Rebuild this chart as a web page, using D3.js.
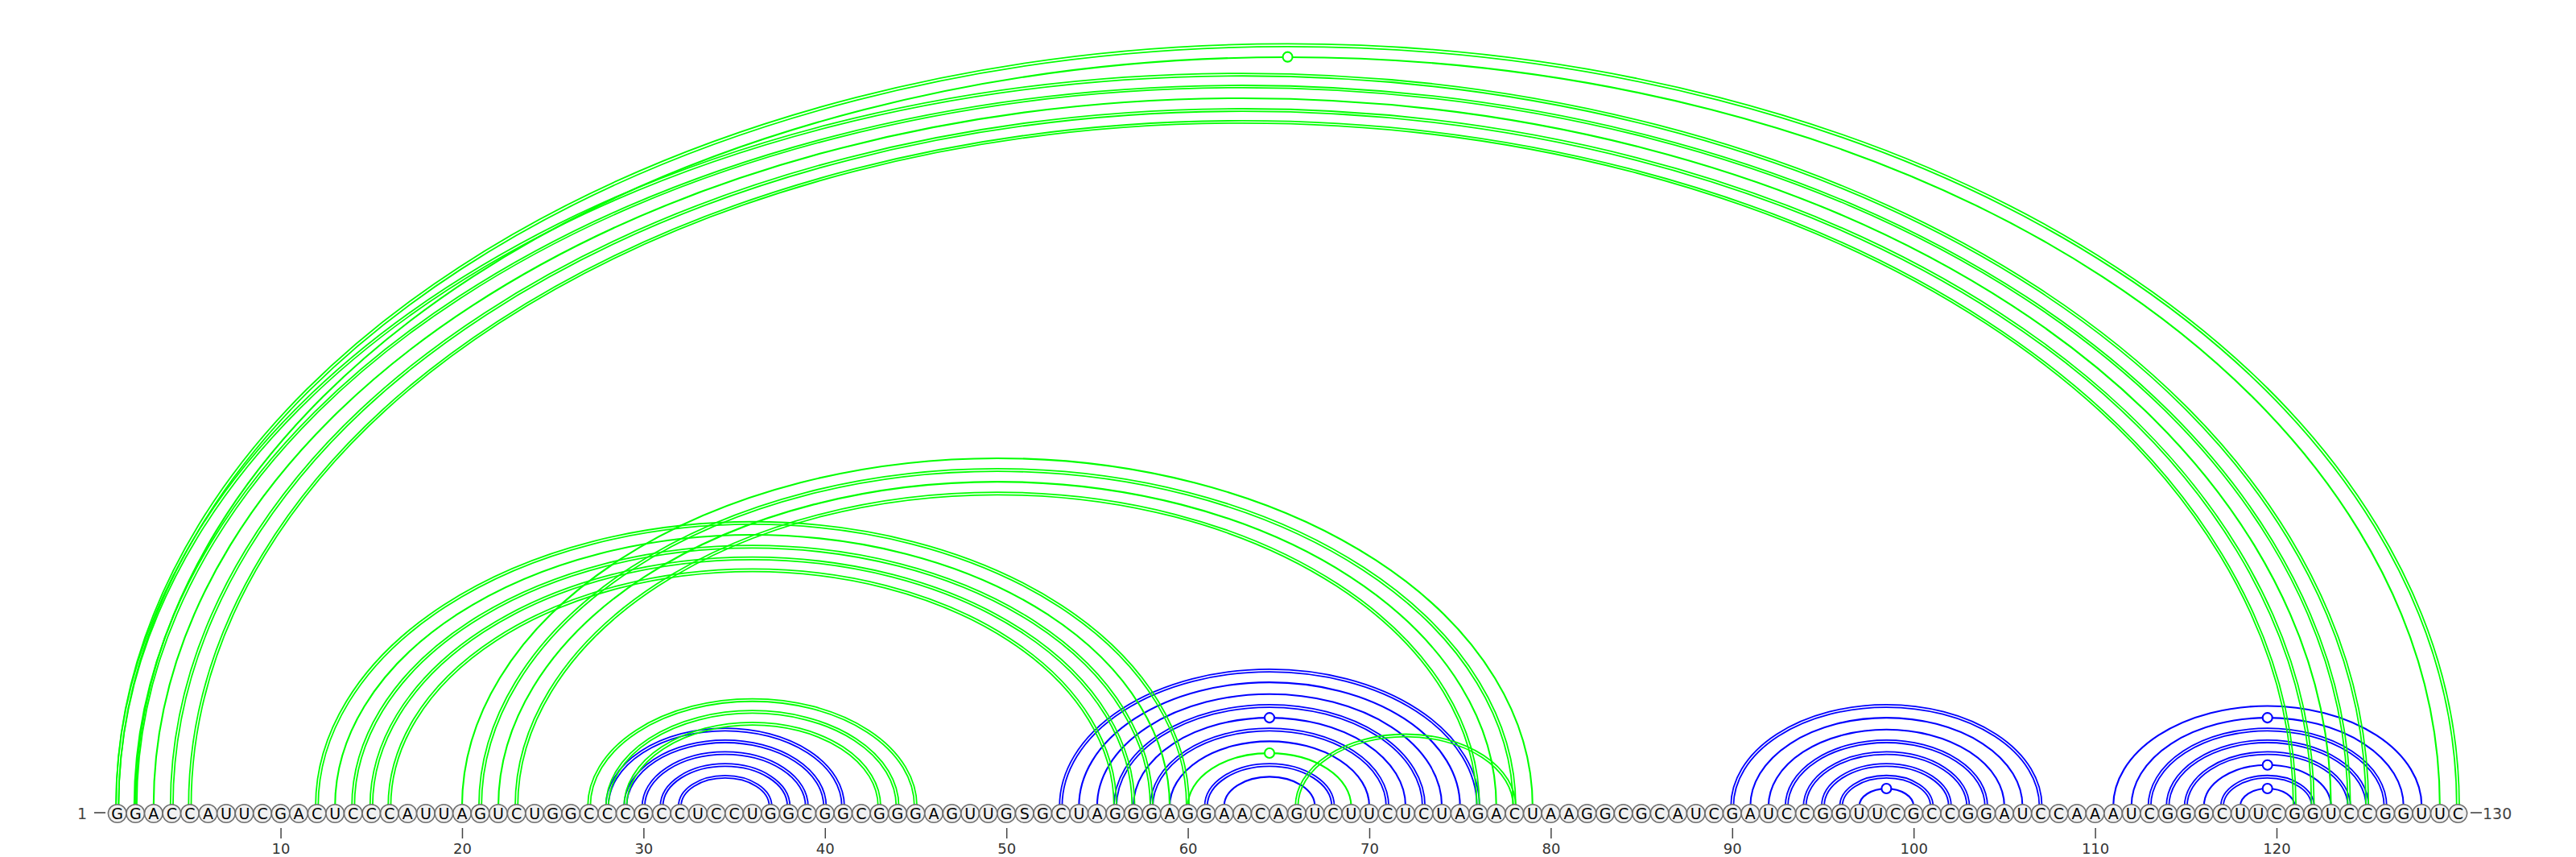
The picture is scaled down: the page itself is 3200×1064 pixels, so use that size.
<!DOCTYPE html>
<html>
<head>
<meta charset="utf-8">
<script src="https://cdn.jsdelivr.net/npm/d3@7"></script>
<style>
  html, body { margin: 0; padding: 0; background: #ffffff; }
  svg { display: block; }
</style>
</head>
<body>
<svg id="chart" width="3200" height="1064"></svg>
<script>
// ---------------- data ----------------
const sequence = "GGACCAUUCGACUCCCAUUAGUCUGGCCCGCCUCCUGGCGGCGGGAGUUGSGCUAGGGAGGAACAGUCUUCUCUAGACUAAGGCGCAUCGAUCCGGUUCGCCGGAUCCAAAUCGGGCUUCGGUCCGGUUC".split("");

const greenPairs = [
  [1,130],[2,129],
  [1,125],[2,124],[3,123],[4,122],[5,121],
  [12,60],[13,59],[14,58],[15,57],[16,56],
  [20,79],[21,78],[22,77],[23,76],
  [27,45],[28,44],[29,43],
  [60,69],[66,78]
];

const bluePairs = [
  [28,41],[29,40],[30,39],[31,38],[32,37],
  [53,76],[54,75],[55,74],[56,73],[57,72],[58,71],[59,70],[61,68],[62,67],
  [90,107],[91,106],[92,105],[93,104],[94,103],[95,102],[96,101],[97,100],
  [111,128],[112,127],[113,126],[114,125],[115,124],[116,123],[117,122],[118,121]
];

const tickValues = [10,20,30,40,50,60,70,80,90,100,110,120];
const firstLabel = "1";
const lastLabel = "130";

// ---------------- layout ----------------
const svg = d3.select("#chart");
svg.append("rect").attr("width", 3200).attr("height", 1064).attr("fill", "#ffffff");

const n = sequence.length;
const x = d3.scaleLinear().domain([1, n]).range([145.7, 3053.4]);
const baseY = 1001;       // arc baseline
const nucY = 1010;        // nucleotide circle centre
const nucR = 11.3;
const arcRatio = 0.65;    // ry / rx

function pairType(i, j) {
  const s = sequence[i - 1] + sequence[j - 1];
  if (s === "GC" || s === "CG") return "double";
  if (s === "GU" || s === "UG") return "wobble";
  return "single";
}

function arcPath(i, j, off) {
  const x1 = x(i) - off, x2 = x(j) + off;
  const rx = (x2 - x1) / 2;
  const ry = (x(j) - x(i)) / 2 * arcRatio + off;
  return `M${x1},${baseY} A${rx},${ry} 0 0 1 ${x2},${baseY}`;
}

function drawPairs(pairs, color, cls) {
  const g = svg.append("g").attr("class", cls);
  pairs.forEach(([i, j]) => {
    const t = pairType(i, j);
    if (t === "double") {
      [-1.6, 1.6].forEach(off => {
        g.append("path")
          .attr("d", arcPath(i, j, off))
          .attr("fill", "none")
          .attr("stroke", color)
          .attr("stroke-width", 1.8);
      });
    } else {
      g.append("path")
        .attr("d", arcPath(i, j, 0))
        .attr("fill", "none")
        .attr("stroke", color)
        .attr("stroke-width", 2.1);
      if (t === "wobble") {
        const cx = (x(i) + x(j)) / 2;
        const cy = baseY - (x(j) - x(i)) / 2 * arcRatio;
        g.append("circle")
          .attr("cx", cx).attr("cy", cy).attr("r", 6)
          .attr("fill", "#ffffff")
          .attr("stroke", color)
          .attr("stroke-width", 2.1);
      }
    }
  });
}

drawPairs(bluePairs, "#0000ff", "blue-arcs");
drawPairs(greenPairs, "#00ff00", "green-arcs");

// nucleotides
const nuc = svg.append("g").attr("class", "nucleotides")
  .selectAll("g").data(sequence.map((b, k) => ({ b, pos: k + 1 })))
  .join("g")
  .attr("transform", d => `translate(${x(d.pos)},${nucY})`);

nuc.append("circle")
  .attr("r", nucR)
  .attr("fill", "#f1f1f1")
  .attr("stroke", "#6e6e6e")
  .attr("stroke-width", 1.6);

nuc.append("text")
  .attr("text-anchor", "middle")
  .attr("dy", "0.36em")
  .attr("font-family", "DejaVu Sans, sans-serif")
  .attr("font-size", 19)
  .attr("fill", "#000000")
  .text(d => d.b);

// end labels
svg.append("text")
  .attr("x", 108).attr("y", nucY).attr("dy", "0.36em")
  .attr("text-anchor", "end")
  .attr("font-family", "DejaVu Sans, sans-serif")
  .attr("font-size", 19)
  .attr("fill", "#444444")
  .text(firstLabel);
svg.append("line")
  .attr("x1", 117).attr("x2", 131).attr("y1", nucY - 1).attr("y2", nucY - 1)
  .attr("stroke", "#444444").attr("stroke-width", 1.6);

svg.append("line")
  .attr("x1", 3069).attr("x2", 3083).attr("y1", nucY - 1).attr("y2", nucY - 1)
  .attr("stroke", "#444444").attr("stroke-width", 1.6);
svg.append("text")
  .attr("x", 3084).attr("y", nucY).attr("dy", "0.36em")
  .attr("text-anchor", "start")
  .attr("font-family", "DejaVu Sans, sans-serif")
  .attr("font-size", 19)
  .attr("fill", "#444444")
  .text(lastLabel);

// axis ticks
const axis = d3.axisBottom(x)
  .tickValues(tickValues)
  .tickSize(13)
  .tickPadding(6)
  .tickFormat(d3.format("d"));

const axG = svg.append("g")
  .attr("transform", `translate(0,${1028})`)
  .call(axis);
axG.select(".domain").remove();
axG.selectAll(".tick line").attr("stroke", "#444444").attr("stroke-width", 1.5);
axG.selectAll(".tick text")
  .attr("font-family", "DejaVu Sans, sans-serif")
  .attr("font-size", 18)
  .attr("fill", "#333333");
</script>
</body>
</html>
